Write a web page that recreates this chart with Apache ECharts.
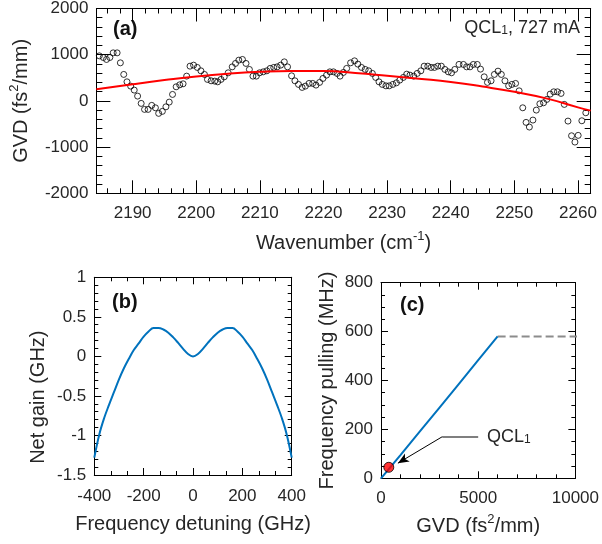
<!DOCTYPE html>
<html>
<head>
<meta charset="utf-8">
<script src="https://cdn.jsdelivr.net/npm/echarts@6/dist/echarts.min.js"></script>
<style>
html,body{margin:0;padding:0;background:#fff;}
#chart{width:602px;height:544px;}
</style>
</head>
<body>
<div id="chart"></div>
<script>
// ---------- Panel (a): measured GVD ----------
const wavenumber = [
2184.25,2184.76,2185.38,2185.89,2186.42,2186.94,2187.56,2188.07,2188.60,2189.11,
2189.69,2190.25,2190.78,2191.34,2191.87,2192.43,2193.00,2193.58,2194.09,2194.67,
2195.23,2195.75,2196.27,2196.84,2197.40,2197.93,2198.49,2199.02,2199.58,2200.16,
2200.73,2201.29,2201.76,2202.33,2202.91,2203.37,2203.89,2204.40,2205.02,2205.65,
2206.17,2206.69,2207.26,2207.82,2208.35,2208.91,2209.44,2209.95,2210.53,2211.09,
2211.62,2212.18,2212.71,2213.27,2213.84,2214.35,2214.98,2215.51,2216.07,2216.64,
2217.15,2217.73,2218.30,2218.82,2219.39,2219.91,2220.48,2221.00,2221.57,2222.13,
2222.60,2223.13,2223.64,2224.26,2224.88,2225.40,2225.97,2226.55,2227.11,2227.68,
2228.20,2228.72,2229.24,2229.81,2230.33,2230.90,2231.46,2231.99,2232.55,2233.08,
2233.59,2234.17,2234.73,2235.30,2235.82,2236.39,2236.91,2237.43,2237.95,2238.52,
2239.08,2239.61,2240.12,2240.64,2241.30,2241.99,2242.50,2243.03,2243.55,2244.17,
2244.68,2245.26,2245.77,2246.34,2246.86,2247.43,2247.95,2248.52,2249.10,2249.61,
2250.19,2250.75,2251.32,2251.84,2252.36,2252.92,2253.45,2254.01,2254.59,2255.10,
2255.63,2256.19,2256.77,2257.34,2257.85,2258.43,2258.99,2259.52,2260.03,2260.61,
2261.23];
const gvd = [
904,975,940,897,940,1040,1040,824,573,413,
320,234,104,-54,-184,-184,-97,-149,-270,-227,
-128,-26,140,305,348,370,536,752,774,724,
651,573,465,435,428,413,465,521,608,737,
811,882,897,811,681,536,536,608,629,651,
703,724,737,774,845,737,543,435,357,292,
320,378,378,342,400,486,558,629,629,595,
536,616,703,824,867,796,724,681,651,595,
508,413,357,326,326,357,391,450,508,579,
558,536,595,651,752,752,724,724,752,752,
681,629,608,681,790,789,737,737,789,789,
688,521,400,435,573,644,573,435,326,357,
378,218,-149,-465,-566,-415,-199,-63,-41,32,
147,197,197,162,-76,-437,-755,-891,-746,-430,
-257];
const fitWavenumber = [2184.3,2190,2195,2200,2205,2210,2215,2220,2225,2230,2235,2240,2245,2250,2255,2260,2262];
const fitGvd        = [250,360,450,530,590,630,648,645,605,545,480,410,310,196,55,-140,-210];
const ticksA_major = [2190,2200,2210,2220,2230,2240,2250,2260];
const ticksA_minor = [2186,2188,2192,2194,2196,2198,2202,2204,2206,2208,2212,2214,2216,2218,2222,2224,2226,2228,2232,2234,2236,2238,2242,2244,2246,2248,2252,2254,2256,2258];

// ---------- Panel (b): net gain ----------
const detuning = [-400,-380,-360,-340,-320,-300,-280,-260,-240,-220,-200,-180,-160,-140,-120,-100,-80,-60,-40,-20,0,
                  20,40,60,80,100,120,140,160,180,200,220,240,260,280,300,320,340,360,380,400];
const netGain  = [-1.28,-0.99,-0.78,-0.61,-0.45,-0.29,-0.15,-0.03,0.08,0.165,0.25,0.315,0.36,0.36,0.34,0.30,0.24,0.17,0.095,0.03,0,
                  0.03,0.095,0.17,0.24,0.30,0.34,0.36,0.36,0.315,0.25,0.165,0.08,-0.03,-0.15,-0.29,-0.45,-0.61,-0.78,-0.99,-1.28];

// ---------- Panel (c): frequency pulling ----------
const gvdC     = [0,1000,2000,3000,4000,5000,6000];
const pulling  = [0,95,192,288,385,483,580];
const saturGvd = [6000,10100];
const saturVal = [580,580];
const qclPoint = [400,45];
const qclLabelStart = [3150,170];
const qclLabelEnd   = [5000,170];
const qclArrowEnd   = [870,62];

const zip = (a,b) => a.map((v,i)=>[v,b[i]]);
const TXT = '#262626';
const FONT = 'Liberation Sans, Arial, sans-serif';
const fmt = v => String(v);
const TICK = {color:'#000', width:1};

function baseAxis(grid, pos, lim, o){
  return Object.assign({
    type:'value', gridIndex:grid, position:pos, min:lim[0], max:lim[1],
    axisLine:{show:true, onZero:false, lineStyle:{color:'#000', width:1}},
    axisTick:{show:true, inside:true, length:7, lineStyle:TICK},
    axisLabel:{show:false},
    splitLine:{show:false}
  }, o);
}
const labelStyle = (margin) => ({show:true, color:TXT, fontSize:17, fontFamily:FONT, margin:margin, formatter:fmt});
const nameStyle = {color:TXT, fontSize:20, fontFamily:FONT, lineHeight:26,
  rich:{sup:{fontSize:13, fontFamily:FONT, color:TXT, verticalAlign:'top'}}};
const plainName = {color:TXT, fontSize:20, fontFamily:FONT};

const limAx = [2184.3,2262], limAy=[-2000,2000], limBx=[-400,400], limBy=[-1.5,1], limCx=[0,10000], limCy=[0,800];
const option = {
  animation:false,
  backgroundColor:'#fff',
  grid:[
    {left:95, top:8.3, width:495.7, height:185},
    {left:94.3, top:277.3, width:197.4, height:197.7},
    {left:381, top:282.7, width:198.3, height:195.6}
  ],
  xAxis:[
    baseAxis(0,'bottom',limAx,{
      axisTick:{show:true, inside:true, length:13, customValues:ticksA_major, lineStyle:TICK},
      axisLabel:Object.assign(labelStyle(12),{customValues:ticksA_major}),
      name:'Wavenumber (cm{sup|-1})', nameLocation:'middle', nameGap:37, nameTextStyle:nameStyle}),
    baseAxis(0,'top',limAx,{
      axisTick:{show:true, inside:true, length:13, customValues:ticksA_major, lineStyle:TICK}}),
    baseAxis(0,'bottom',limAx,{axisLine:{show:false, onZero:false},
      axisTick:{show:true, inside:true, length:5, customValues:ticksA_minor, lineStyle:TICK}}),
    baseAxis(0,'top',limAx,{axisLine:{show:false, onZero:false},
      axisTick:{show:true, inside:true, length:5, customValues:ticksA_minor, lineStyle:TICK}}),
    baseAxis(1,'bottom',limBx,{interval:200,
      minorTick:{show:true, splitNumber:3, length:4, lineStyle:TICK},
      axisLabel:labelStyle(13),
      name:'Frequency detuning (GHz)', nameLocation:'middle', nameGap:39, nameTextStyle:plainName}),
    baseAxis(1,'top',limBx,{interval:200,
      minorTick:{show:true, splitNumber:3, length:4, lineStyle:TICK}}),
    baseAxis(2,'bottom',limCx,{interval:5000,
      minorTick:{show:true, splitNumber:5, length:4, lineStyle:TICK},
      axisLabel:labelStyle(12),
      name:'GVD (fs{sup|2}/mm)', nameLocation:'middle', nameGap:35, nameTextStyle:nameStyle}),
    baseAxis(2,'top',limCx,{interval:5000,
      minorTick:{show:true, splitNumber:5, length:4, lineStyle:TICK}})
  ],
  yAxis:[
    baseAxis(0,'left',limAy,{interval:1000,
      axisTick:{show:true, inside:true, length:14, lineStyle:TICK},
      minorTick:{show:true, splitNumber:5, length:6, lineStyle:TICK},
      axisLabel:labelStyle(8),
      name:'GVD (fs{sup|2}/mm)', nameLocation:'middle', nameGap:57, nameTextStyle:nameStyle}),
    baseAxis(0,'right',limAy,{interval:1000,
      axisTick:{show:true, inside:true, length:14, lineStyle:TICK},
      minorTick:{show:true, splitNumber:5, length:6, lineStyle:TICK}}),
    baseAxis(1,'left',limBy,{interval:0.5,
      minorTick:{show:true, splitNumber:5, length:4, lineStyle:TICK},
      axisLabel:labelStyle(8),
      name:'Net gain (GHz)', nameLocation:'middle', nameGap:46,
      nameTextStyle:Object.assign({padding:[0,42,0,0]}, plainName)}),
    baseAxis(1,'right',limBy,{interval:0.5,
      minorTick:{show:true, splitNumber:5, length:4, lineStyle:TICK}}),
    baseAxis(2,'left',limCy,{interval:200,
      minorTick:{show:true, splitNumber:4, length:4, lineStyle:TICK},
      axisLabel:labelStyle(8),
      name:'Frequency pulling (MHz)', nameLocation:'middle', nameGap:44, nameTextStyle:plainName}),
    baseAxis(2,'right',limCy,{interval:200,
      minorTick:{show:true, splitNumber:4, length:4, lineStyle:TICK}})
  ],
  series:[
    {type:'scatter', xAxisIndex:0, yAxisIndex:0, data:zip(wavenumber,gvd),
     symbol:'circle', symbolSize:6, silent:true,
     itemStyle:{color:'rgba(255,255,255,0)', borderColor:'#000', borderWidth:1}},
    {type:'line', xAxisIndex:0, yAxisIndex:0, data:zip(fitWavenumber,fitGvd),
     smooth:true, showSymbol:false, symbol:'none', silent:true,
     lineStyle:{color:'#ff0000', width:2}},
    {type:'line', xAxisIndex:4, yAxisIndex:2, data:zip(detuning,netGain),
     smooth:0.4, showSymbol:false, symbol:'none', silent:true,
     lineStyle:{color:'#0072BD', width:2}},
    {type:'line', xAxisIndex:6, yAxisIndex:4, data:zip(saturGvd,saturVal),
     showSymbol:false, symbol:'none', silent:true, clip:false,
     lineStyle:{color:'#8c8c8c', width:2, type:[8,4]}},
    {type:'line', xAxisIndex:6, yAxisIndex:4, data:zip(gvdC,pulling),
     showSymbol:false, symbol:'none', silent:true,
     lineStyle:{color:'#0072BD', width:2}},
    {type:'scatter', xAxisIndex:6, yAxisIndex:4, data:[qclPoint],
     symbol:'circle', symbolSize:10, silent:true, z:5,
     itemStyle:{color:'#ff0000', borderColor:'#000', borderWidth:1},
     markLine:{silent:true, animation:false, symbol:'none',
       data:[
         [{coord:qclLabelStart, lineStyle:{color:'#555', width:1.5, type:'solid'}, symbol:'none',
           label:{show:false}},
          {coord:qclLabelEnd, symbol:'none'}],
         [{coord:qclLabelStart, lineStyle:{color:'#000', width:1, type:'solid'}, symbol:'none',
           label:{show:false}},
          {coord:qclArrowEnd, symbol:'arrow', symbolSize:[7,11]}]
       ]}}
  ],
  graphic:[
    {type:'text', left:113, top:19, style:{text:'(a)', font:'bold 20px '+FONT, fill:'#111'}},
    {type:'text', right:22, top:19, style:{text:'QCL{sub|1}, 727 mA', font:'18px '+FONT, fill:TXT,
      rich:{sub:{fontSize:12, fontFamily:FONT, fill:TXT, verticalAlign:'bottom', padding:[6,0,0,0]}}}},
    {type:'text', left:112, top:292, style:{text:'(b)', font:'bold 20px '+FONT, fill:'#111'}},
    {type:'text', left:400, top:295, style:{text:'(c)', font:'bold 20px '+FONT, fill:'#111'}},
    {type:'text', left:487, top:428, style:{text:'QCL{sub|1}', font:'18px '+FONT, fill:TXT,
      rich:{sub:{fontSize:12, fontFamily:FONT, fill:TXT, verticalAlign:'bottom', padding:[6,0,0,0]}}}}
  ]
};
const chart = echarts.init(document.getElementById('chart'), null, {renderer:'canvas'});
chart.setOption(option);
</script>
</body>
</html>
